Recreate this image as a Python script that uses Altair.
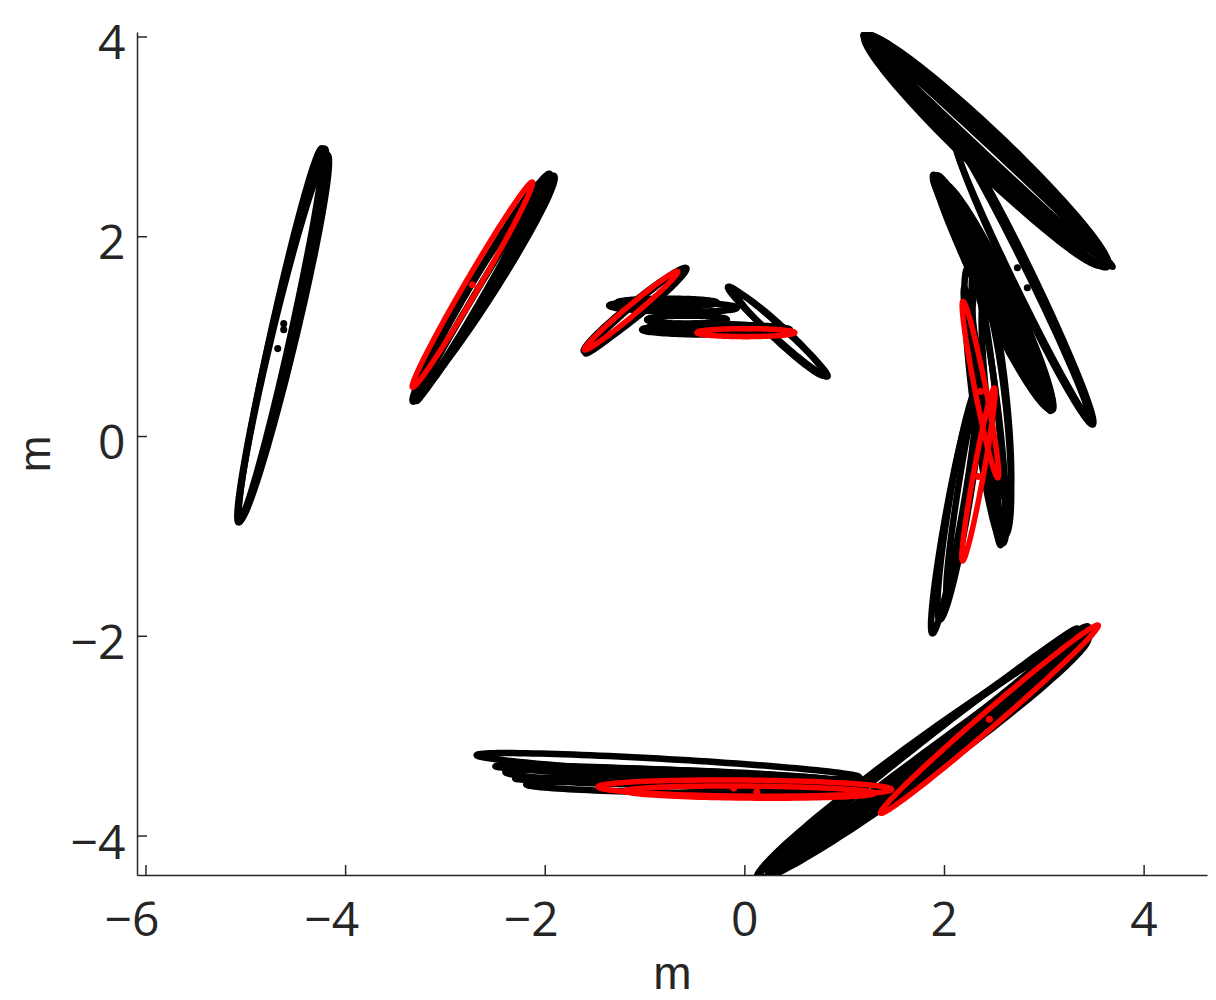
import numpy as np
import pandas as pd
import altair as alt

# ---- ellipse parameters: centre x, centre y, semi-axes a/b, angle (deg) ----
blk_cx  = [-4.64, -4.62, -4.65,
           -2.64, -2.60, -2.69, -2.62,
           -1.10, -1.13, -0.72, -0.78, -0.58, -0.29, -0.40, 0.33, 0.36,
           2.42, 2.40, 2.45, 2.38, 2.44, 2.43, 2.39,
           2.80, 2.78,
           2.50, 2.47, 2.53, 2.45, 2.48,
           2.41, 2.44, 2.47, 2.52, 2.38, 2.09, 2.15, 2.20,
           -0.77, -0.52, -0.65, -0.70, -0.60,
           1.81, 1.85, 1.78, 1.95, 1.80, 1.88]
blk_cy  = [1.01, 0.99, 1.03,
           1.49, 1.53, 1.45, 1.47,
           1.27, 1.24, 1.30, 1.34, 1.17, 1.07, 1.10, 1.05, 1.02,
           2.86, 2.88, 2.83, 2.91, 2.86, 2.84, 2.89,
           1.545, 1.56,
           1.44, 1.48, 1.40, 1.52, 1.42,
           0.31, 0.35, 0.25, 0.40, 0.20, -0.80, -0.65, -0.50,
           -3.30, -3.51, -3.42, -3.38, -3.47,
           -3.18, -3.12, -3.22, -3.00, -3.20, -3.10]
blk_a   = [1.92, 1.88, 1.90,
           1.33, 1.28, 1.24, 1.30,
           0.66, 0.62, 0.64, 0.50, 0.40, 0.74, 0.55, 0.67, 0.60,
           1.68, 1.66, 1.62, 1.63, 1.70, 1.60, 1.58,
           1.58, 1.52,
           1.31, 1.28, 1.25, 1.20, 1.30,
           1.39, 1.30, 1.25, 1.05, 1.30, 1.19, 1.20, 1.10,
           1.92, 1.67, 1.75, 1.80, 1.70,
           2.08, 2.00, 2.05, 1.75, 1.95, 1.90]
blk_b   = [0.11, 0.12, 0.10,
           0.10, 0.12, 0.08, 0.05,
           0.07, 0.05, 0.05, 0.04, 0.04, 0.05, 0.03, 0.06, 0.07,
           0.20, 0.16, 0.12, 0.08, 0.04, 0.18, 0.10,
           0.11, 0.08,
           0.13, 0.09, 0.15, 0.05, 0.03,
           0.12, 0.08, 0.15, 0.10, 0.05, 0.08, 0.10, 0.06,
           0.07, 0.06, 0.08, 0.04, 0.03,
           0.14, 0.10, 0.18, 0.06, 0.03, 0.12]
blk_ang = [77.0, 76.5, 77.5,
           59.0, 57.5, 60.0, 59.0,
           39.0, 41.0, -1.0, 0.0, 0.0, 0.0, -0.5, -42.0, -43.0,
           -43.5, -43.7, -44.0, -43.0, -43.0, -44.5, -42.5,
           -64.3, -64.0,
           -63.7, -63.0, -64.5, -62.0, -63.5,
           -82.8, -83.5, -84.0, -84.0, -82.0, 79.8, 80.5, 81.0,
           -3.3, -0.9, -2.0, -2.5, -1.5,
           36.5, 37.5, 36.0, 38.0, 36.5, 37.0]

red_cx  = [-2.73, -1.14, 0.01, 2.36, 2.34, 0.00, 0.05, 2.45]
red_cy  = [1.52, 1.26, 1.04, 0.47, -0.38, -3.52, -3.56, -2.83]
red_a   = [1.19, 0.61, 0.49, 0.90, 0.88, 1.47, 1.25, 1.44]
red_b   = [0.07, 0.05, 0.04, 0.055, 0.05, 0.08, 0.06, 0.08]
red_ang = [59.7, 40.0, 0.0, -78.8, 79.6, -0.5, -0.5, 40.8]

# centre dots
blk_dot_x = [-4.62, -4.62, -4.68, 2.73, 2.83]
blk_dot_y = [1.13, 1.07, 0.88, 1.69, 1.49]
red_dot_x = [-2.73, 2.36, 2.34, -0.11, 0.12, 2.45]
red_dot_y = [1.52, 0.45, -0.40, -3.52, -3.56, -2.83]

x_ticks = [-6, -4, -2, 0, 2, 4]
y_ticks = [-4, -2, 0, 2, 4]

X_DOM = [-6.09, 4.63]
Y_DOM = [-4.39, 4.05]
W, H = 1070, 843
FONT = "Open Sans"
TFONT = "Liberation Sans"
TXT = "#262626"


def outline(cx, cy, a, b, ang, tag):
    rows = []
    t = np.linspace(0, 2 * np.pi, 121)
    for k in range(len(cx)):
        th = np.deg2rad(ang[k])
        xs = cx[k] + a[k] * np.cos(t) * np.cos(th) - b[k] * np.sin(t) * np.sin(th)
        ys = cy[k] + a[k] * np.cos(t) * np.sin(th) + b[k] * np.sin(t) * np.cos(th)
        for i in range(len(t)):
            rows.append({"id": f"{tag}{k}", "i": i, "x": xs[i], "y": ys[i]})
    return pd.DataFrame(rows)


blk_df = outline(blk_cx, blk_cy, blk_a, blk_b, blk_ang, "k")
red_df = outline(red_cx, red_cy, red_a, red_b, red_ang, "r")

xs = alt.Scale(domain=X_DOM, nice=False, zero=False)
ys = alt.Scale(domain=Y_DOM, nice=False, zero=False)

x_axis = alt.Axis(values=x_ticks, format="d", ticks=False, grid=False, domainColor=TXT, domainWidth=1.5,
                  labelFont=FONT, labelFontSize=48, labelColor=TXT, labelPadding=22,
                  labelAlign="right", labelOffset=13, labelFlush=False, labelOverlap=False,
                  title="m", titleFont=TFONT, titleFontSize=46, titleFontWeight="normal",
                  titleColor=TXT, titleBaseline="alphabetic", titleY=113)
y_axis = alt.Axis(values=y_ticks, format="d", ticks=False, grid=False, domainColor=TXT, domainWidth=1.5,
                  labelFont=FONT, labelFontSize=48, labelColor=TXT, labelPadding=12,
                  labelOffset=8, labelFlush=False, labelOverlap=False,
                  title="m", titleFont=TFONT, titleFontSize=44, titleFontWeight="normal",
                  titleColor=TXT, titleBaseline="alphabetic", titleAngle=-90, titleX=-88, titleY=H / 2)

black = alt.Chart(blk_df).mark_line(color="black", strokeWidth=6.5, strokeJoin="round",
                                    strokeCap="round", clip=True).encode(
    x=alt.X("x:Q", scale=xs, axis=x_axis),
    y=alt.Y("y:Q", scale=ys, axis=y_axis),
    detail="id:N", order="i:Q")

red = alt.Chart(red_df).mark_line(color="#ff0000", strokeWidth=5.5, strokeJoin="round",
                                  strokeCap="round", clip=True).encode(
    x=alt.X("x:Q", scale=xs), y=alt.Y("y:Q", scale=ys), detail="id:N", order="i:Q")

bdots = alt.Chart(pd.DataFrame({"x": blk_dot_x, "y": blk_dot_y})).mark_circle(
    color="black", size=50, opacity=1).encode(x=alt.X("x:Q", scale=xs), y=alt.Y("y:Q", scale=ys))
rdots = alt.Chart(pd.DataFrame({"x": red_dot_x, "y": red_dot_y})).mark_circle(
    color="#ff0000", size=50, opacity=1).encode(x=alt.X("x:Q", scale=xs), y=alt.Y("y:Q", scale=ys))

xtick = alt.Chart(pd.DataFrame({"v": x_ticks})).mark_rule(color=TXT, strokeWidth=1.5).encode(
    x=alt.X("v:Q", scale=xs), y=alt.value(H), y2=alt.value(H - 10))
ytick = alt.Chart(pd.DataFrame({"v": y_ticks})).mark_rule(color=TXT, strokeWidth=1.5).encode(
    y=alt.Y("v:Q", scale=ys), x=alt.value(0), x2=alt.value(10))

chart = alt.layer(black, red, bdots, rdots, xtick, ytick).properties(
    width=W, height=H,
    autosize=alt.AutoSizeParams(type="none"),
    padding={"left": 129, "top": 24, "right": 1, "bottom": 125},
).configure(background="white").configure_view(stroke=None)

chart.save("out.html", embed_options={"renderer": "svg", "actions": False})
